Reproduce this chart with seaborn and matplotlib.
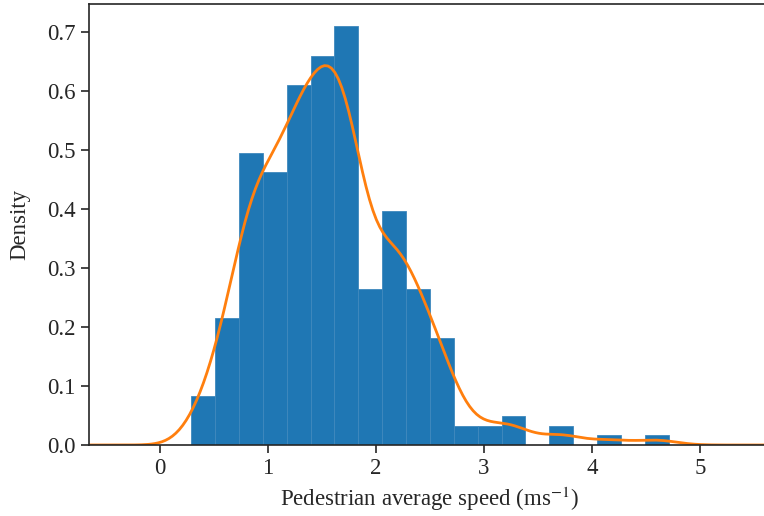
import numpy as np
import pandas as pd
import seaborn as sns
import matplotlib.pyplot as plt

# bin counts (20 equal bins between 0.29 and 4.71 m/s)
bin_lo = 0.29
bin_hi = 4.71
counts = [5, 13, 30, 28, 37, 40, 43, 16, 24, 16, 11, 2, 2, 3, 0, 2, 0, 1, 0, 1]

edges = np.linspace(bin_lo, bin_hi, len(counts) + 1)
centers = (edges[:-1] + edges[1:]) / 2
df = pd.DataFrame({"speed": centers, "n": counts})

sns.set_style("ticks")
plt.rcParams["font.family"] = ["Liberation Serif", "DejaVu Serif"]
plt.rcParams["mathtext.fontset"] = "stix"

fig = plt.figure(figsize=(7.64, 5.16), dpi=100)
ax = fig.add_axes([89 / 764, 71 / 516, 680 / 764, 441 / 516])

sns.histplot(data=df, x="speed", weights="n", bins=len(counts),
             binrange=(bin_lo, bin_hi), stat="density",
             color="#1f77b4", alpha=1, edgecolor="#3f88bd", linewidth=0.6, ax=ax)
sns.kdeplot(data=df, x="speed", weights="n", bw_adjust=0.42, cut=3.6,
            color="#ff7f0e", linewidth=2, ax=ax)

ax.set_xlim(-0.657, 5.64)
ax.set_ylim(0, 0.748)
ax.set_xlabel("Pedestrian average speed (ms$^{-1}$)", fontsize=16.5)
ax.set_ylabel("Density", fontsize=16.5, labelpad=12)
ax.tick_params(labelsize=16.5, length=6, width=1.2)
for s in ax.spines.values():
    s.set_linewidth(1.2)

fig.savefig("out.png", dpi=100)
